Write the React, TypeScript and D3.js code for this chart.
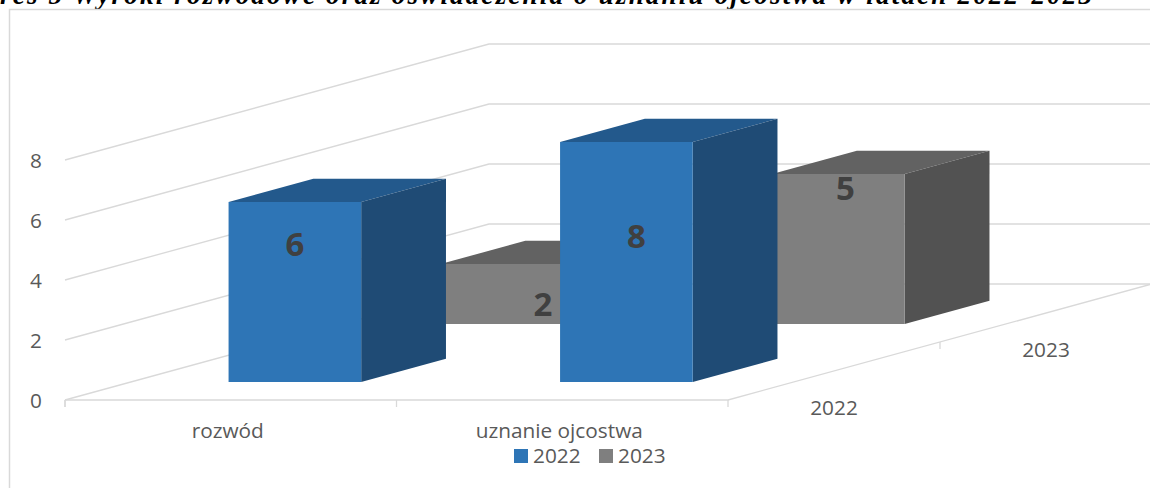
import React from 'react'
import * as d3 from 'd3'

const categories = ['rozwód', 'uznanie ojcostwa']
const seriesNames = ['2022', '2023']
const values2022 = [6, 8]
const values2023 = [2, 5]
const yTicks = [0, 2, 4, 6, 8]
const title = 'res 5 Wyroki rozwodowe oraz oświadczenia o uznaniu ojcostwa w latach 2022-2023'

const font = '"Open Sans", sans-serif'
const textColor = '#595959'
const gridColor = '#d9d9d9'
const labelSize = 20.8

const palette = [
  {front: '#2e75b6', top: '#23598c', side: '#1f4b75'},
  {front: '#7f7f7f', top: '#626262', side: '#525252'},
]

// floor corners of the fake 3d box
const x0 = 65
const x1 = 728
const floorY = 400
const depthX = 424
const depthY = -116
const barShift = -1.6

const xScale = d3.scaleBand().domain(categories).range([0, x1 - x0]).paddingInner(0.6).paddingOuter(0.3)
const catScale = d3.scaleBand().domain(categories).range([0, x1 - x0])
const yScale = d3.scaleLinear().domain([0, 8]).range([0, 240])
const zScale = d3.scaleBand().domain(seriesNames).range([0, 1])

const project = (x: number, v: number, z: number): [number, number] => [
  x0 + x + z * depthX,
  floorY - yScale(v) + z * depthY,
]

const line = d3.line()
const poly = (pts: [number, number][]) => line(pts) + 'Z'

// hand placed data labels, excel doesn't centre them on the 3d bars
const labelNudge = [
  [[0, 42], [36, 40]],
  [[10, 94], [7, 14]],
]

const Bar = ({cat, ser, v}: {cat: number; ser: number; v: number}) => {
  const left = xScale(categories[cat])! + barShift
  const right = left + xScale.bandwidth()
  const name = seriesNames[ser]
  const zf = zScale(name)! + zScale.bandwidth() * 0.31
  const zb = zf + zScale.bandwidth() * 0.4
  const c = palette[ser]
  return (
    <g>
      <path d={poly([project(left, v, zf), project(right, v, zf), project(right, v, zb), project(left, v, zb)])} fill={c.top} />
      <path d={poly([project(right, 0, zf), project(right, v, zf), project(right, v, zb), project(right, 0, zb)])} fill={c.side} />
      <path d={poly([project(left, 0, zf), project(right, 0, zf), project(right, v, zf), project(left, v, zf)])} fill={c.front} />
    </g>
  )
}

const BarLabel = ({cat, ser, v}: {cat: number; ser: number; v: number}) => {
  const left = xScale(categories[cat])! + barShift
  const name = seriesNames[ser]
  const zf = zScale(name)! + zScale.bandwidth() * 0.31
  const [px, py] = project(left + xScale.bandwidth() / 2, v, zf)
  const [dx, dy] = labelNudge[cat][ser]
  return (
    <text x={px + dx} y={py + dy + 12} textAnchor="middle" fontFamily={font} fontWeight="700" fontSize={33} fill="#404040">
      {v}
    </text>
  )
}

export default function App() {
  const xTicks = [0, x1 - x0, ...categories.map(c => catScale(c)!)]
  const zTicks = [0.5]
  const rows = [values2022, values2023]
  // back row first so the front bars cover it
  const order = [1, 0]

  return (
    <svg width={1150} height={488} style={{position: 'absolute', left: 0, top: 0, background: '#fff'}}>
      <text x={0} y={4} fontFamily='"Liberation Serif", serif' fontWeight="700" fontStyle="italic" fontSize={27} textLength={1092} fill="#000">
        {title}
      </text>
      <path d="M9.5,488V9.5H1150" fill="none" stroke={gridColor} strokeWidth={1.5} />

      <g fill="none" stroke={gridColor} strokeWidth={1.3}>
        {yTicks.map(t => (
          <path key={t} d={line([project(0, t, 0), project(0, t, 1), project(x1 - x0 + depthX, t, 1)]) ?? ''} />
        ))}
        <path d={line([project(0, 0, 0), project(x1 - x0, 0, 0), project(x1 - x0, 0, 1)]) ?? ''} />
        {xTicks.map(x => (
          <path key={x} d={`M${x0 + x},${floorY}v7`} />
        ))}
        {zTicks.map(z => {
          const [px, py] = project(x1 - x0, 0, z)
          return <path key={z} d={`M${px},${py}v7`} />
        })}
      </g>

      {yTicks.map(t => (
        <text key={t} x={42} y={floorY - yScale(t) + 8} textAnchor="end" fontFamily={font} fontSize={labelSize} fill={textColor}>
          {t}
        </text>
      ))}

      {order.map(s => categories.map((c, i) => <Bar key={c + s} cat={i} ser={s} v={rows[s][i]} />))}
      {order.map(s => categories.map((c, i) => <BarLabel key={c + s} cat={i} ser={s} v={rows[s][i]} />))}

      {categories.map(c => (
        <text key={c} x={x0 + catScale(c)! + catScale.bandwidth() / 2 - 3} y={438} textAnchor="middle" fontFamily={font} fontSize={labelSize} fill={textColor}>
          {c}
        </text>
      ))}
      {seriesNames.map(s => {
        const [px, py] = project(x1 - x0, 0, zScale(s)! + zScale.bandwidth() / 2)
        return (
          <text key={s} x={px} y={py + 44} textAnchor="middle" fontFamily={font} fontSize={labelSize} fill={textColor}>
            {s}
          </text>
        )
      })}

      {seriesNames.map((s, i) => (
        <g key={s} transform={`translate(${514 + i * 85},449)`}>
          <rect width={14} height={14} fill={palette[i].front} />
          <text x={19} y={14} fontFamily={font} fontSize={labelSize} fill={textColor}>
            {s}
          </text>
        </g>
      ))}
    </svg>
  )
}
